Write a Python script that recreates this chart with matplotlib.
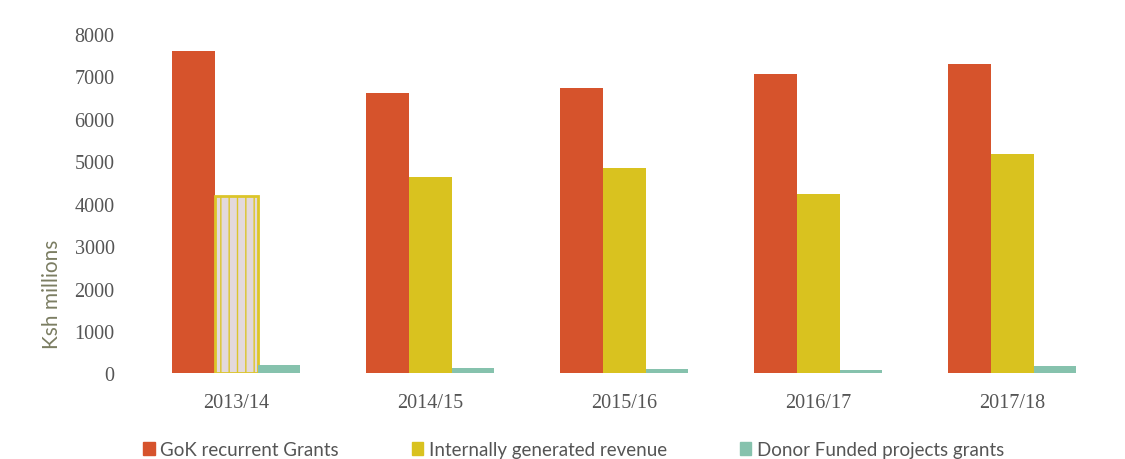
import numpy as np
import matplotlib.pyplot as plt
from matplotlib.patches import Patch

years = ['2013/14', '2014/15', '2015/16', '2016/17', '2017/18']
gok_grants = [7590, 6610, 6730, 7060, 7300]
internal_revenue = [4180, 4630, 4850, 4220, 5180]
donor_grants = [200, 120, 110, 90, 180]

red = '#d6532c'
yellow = '#d9c21f'
teal = '#86c2ad'
grey_text = '#555555'

fig = plt.figure(figsize=(11.25, 4.6), dpi=100)
ax = fig.add_axes([0.124, 0.186, 0.862, 0.738])

x = np.arange(len(years))
w = 0.22
ax.bar(x - w, gok_grants, w, color=red)
bars = ax.bar(x, internal_revenue, w, color=yellow)
ax.bar(x + w, donor_grants, w, color=teal)

# first revenue bar is a washed-out fill in the printed report
plt.rcParams['hatch.linewidth'] = 1.2
bars[0].set_facecolor('#e3d9dc')
bars[0].set_edgecolor('#dcc52a')
bars[0].set_hatch('||')
bars[0].set_linewidth(2)

ax.set_xlim(-0.5, len(years) - 0.5)
ax.set_ylim(0, 8000)
ax.set_yticks(range(0, 8001, 1000))
ax.set_xticks(x)
ax.set_xticklabels(years)
for spine in ax.spines.values():
    spine.set_visible(False)
ax.tick_params(length=0, labelsize=14.5, colors=grey_text)
ax.tick_params(axis='x', pad=14)
ax.tick_params(axis='y', pad=18)
for lbl in ax.get_xticklabels() + ax.get_yticklabels():
    lbl.set_family('Liberation Serif')

ax.set_ylabel('Ksh millions', fontsize=15, color='#7b7d62', family='Lato')
ax.yaxis.set_label_coords(-0.08, 0.235)

handles = [Patch(color=red), Patch(color=yellow), Patch(color=teal)]
labels = ['GoK recurrent Grants', 'Internally generated revenue',
          'Donor Funded projects grants']
fig.legend(handles, labels, loc='lower center', bbox_to_anchor=(0.51, -0.035),
           ncol=3, frameon=False, handlelength=0.6, handleheight=0.7,
           handletextpad=0.3, columnspacing=3.9,
           prop={'family': 'Lato', 'size': 13.5}, labelcolor=grey_text)

fig.savefig('out.png', dpi=100)
